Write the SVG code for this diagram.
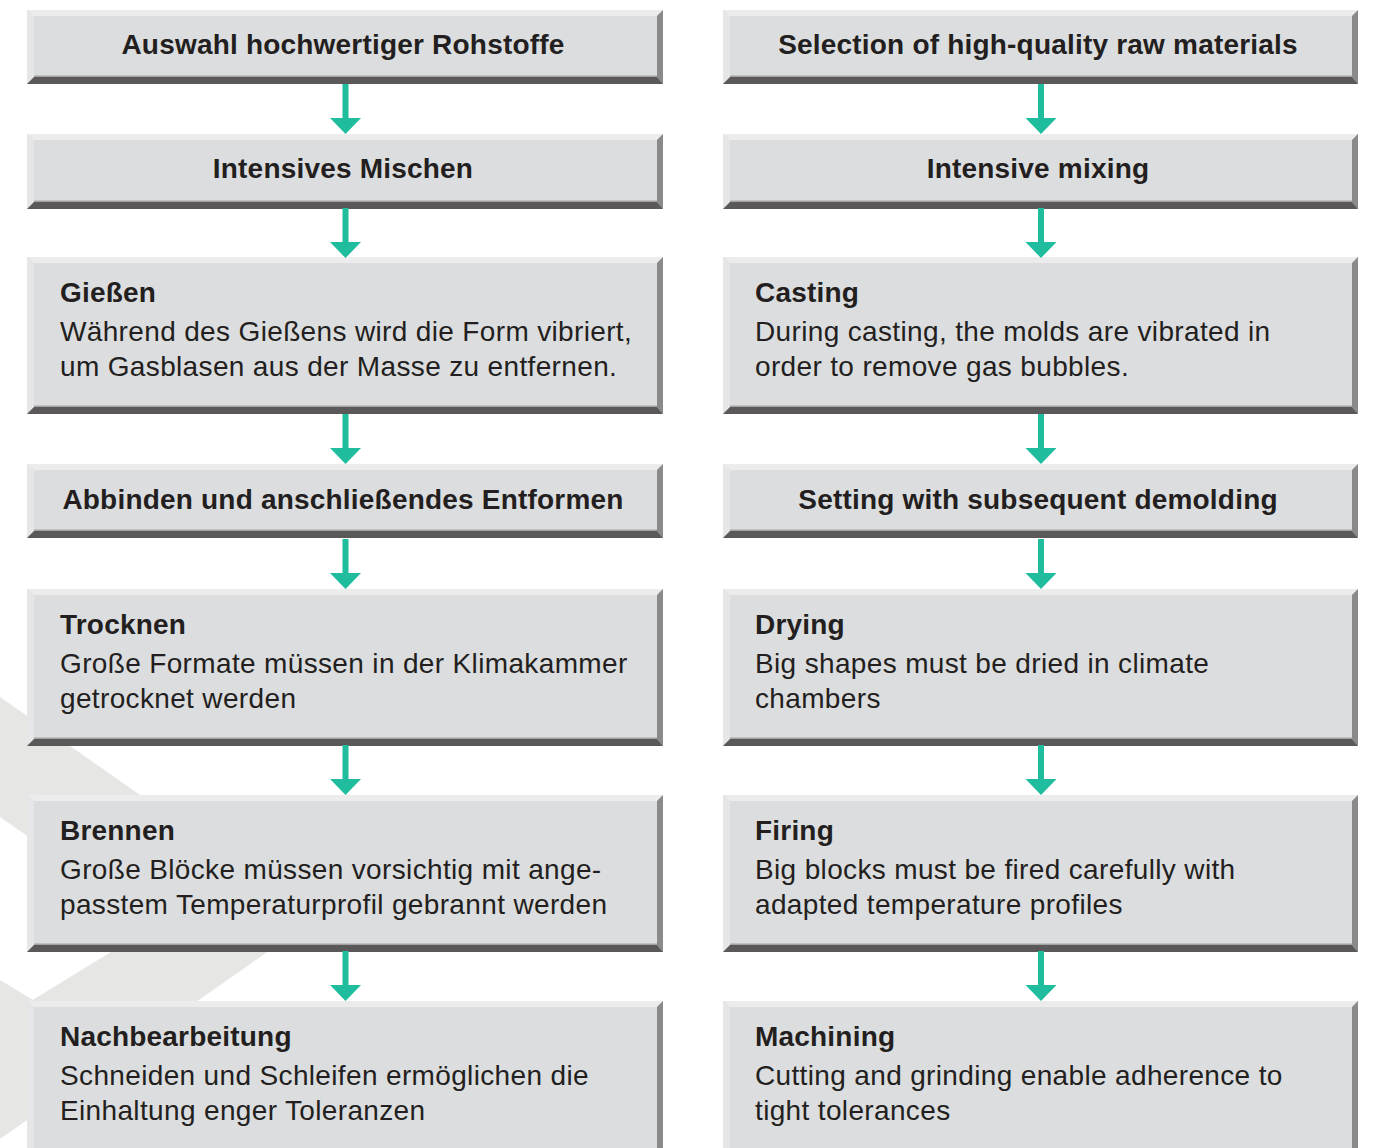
<svg xmlns="http://www.w3.org/2000/svg" width="1373" height="1148" viewBox="0 0 1373 1148">
<style>
.face{fill:#dcdddf}
.bt{fill:#ececec}
.bl{fill:#e5e6e7}
.br{fill:#8a8a8b}
.bb{fill:#5a5859}
.bbl{fill:#a3a3a4}
.t{font-family:"Liberation Sans",Arial,sans-serif;font-size:28px;fill:#231f20;letter-spacing:0.35px}
.b{font-weight:bold;letter-spacing:0.2px}
.c{text-anchor:middle}
.arr{fill:#1fbd9d}
.bg{fill:#e6e6e4}
</style>
<defs>
<g id="arrowShape">
<rect x="-3" y="0" width="6" height="36"/>
<polygon points="-15.5,34 15.5,34 0,50"/>
</g>
</defs>
<rect x="0" y="0" width="1373" height="1148" fill="#ffffff"/>
<g id="background">
<polygon class="bg" points="0,697 316,918 0,1139 0,1020 155,925 0,817"/>
<polygon class="bg" points="0,980 33,1000 60,1016 60,1110 0,1110"/>
</g>

<g id="n1">
<rect class="face" x="27" y="10" width="636" height="74"/>
<polygon class="bt" points="27,10 663,10 657,16 34,16"/>
<polygon class="bl" points="27,10 34,16 34,77 27,84"/>
<polygon class="br" points="663,10 663,84 657,77 657,16"/>
<polygon class="bbl" points="34,75.5 657,75.5 657,77 34,77"/>
<polygon class="bb" points="27,84 663,84 657,77 34,77"/>
<text class="t b c" x="343" y="54">Auswahl hochwertiger Rohstoffe</text>
</g>
<g id="n2">
<rect class="face" x="27" y="134" width="636" height="75"/>
<polygon class="bt" points="27,134 663,134 657,140 34,140"/>
<polygon class="bl" points="27,134 34,140 34,202 27,209"/>
<polygon class="br" points="663,134 663,209 657,202 657,140"/>
<polygon class="bbl" points="34,200.5 657,200.5 657,202 34,202"/>
<polygon class="bb" points="27,209 663,209 657,202 34,202"/>
<text class="t b c" x="343" y="178">Intensives Mischen</text>
</g>
<g id="n3">
<rect class="face" x="27" y="257" width="636" height="157"/>
<polygon class="bt" points="27,257 663,257 657,263 34,263"/>
<polygon class="bl" points="27,257 34,263 34,407 27,414"/>
<polygon class="br" points="663,257 663,414 657,407 657,263"/>
<polygon class="bbl" points="34,405.5 657,405.5 657,407 34,407"/>
<polygon class="bb" points="27,414 663,414 657,407 34,407"/>
<text class="t b" x="60" y="302">Gießen</text>
<text class="t" x="60" y="341">Während des Gießens wird die Form vibriert,</text>
<text class="t" x="60" y="376">um Gasblasen aus der Masse zu entfernen.</text>
</g>
<g id="n4">
<rect class="face" x="27" y="464" width="636" height="74"/>
<polygon class="bt" points="27,464 663,464 657,470 34,470"/>
<polygon class="bl" points="27,464 34,470 34,531 27,538"/>
<polygon class="br" points="663,464 663,538 657,531 657,470"/>
<polygon class="bbl" points="34,529.5 657,529.5 657,531 34,531"/>
<polygon class="bb" points="27,538 663,538 657,531 34,531"/>
<text class="t b c" x="343" y="509">Abbinden und anschließendes Entformen</text>
</g>
<g id="n5">
<rect class="face" x="27" y="589" width="636" height="157"/>
<polygon class="bt" points="27,589 663,589 657,595 34,595"/>
<polygon class="bl" points="27,589 34,595 34,739 27,746"/>
<polygon class="br" points="663,589 663,746 657,739 657,595"/>
<polygon class="bbl" points="34,737.5 657,737.5 657,739 34,739"/>
<polygon class="bb" points="27,746 663,746 657,739 34,739"/>
<text class="t b" x="60" y="634">Trocknen</text>
<text class="t" x="60" y="673">Große Formate müssen in der Klimakammer</text>
<text class="t" x="60" y="708">getrocknet werden</text>
</g>
<g id="n6">
<rect class="face" x="27" y="795" width="636" height="157"/>
<polygon class="bt" points="27,795 663,795 657,801 34,801"/>
<polygon class="bl" points="27,795 34,801 34,945 27,952"/>
<polygon class="br" points="663,795 663,952 657,945 657,801"/>
<polygon class="bbl" points="34,943.5 657,943.5 657,945 34,945"/>
<polygon class="bb" points="27,952 663,952 657,945 34,945"/>
<text class="t b" x="60" y="840">Brennen</text>
<text class="t" x="60" y="879">Große Blöcke müssen vorsichtig mit ange-</text>
<text class="t" x="60" y="914">passtem Temperaturprofil gebrannt werden</text>
</g>
<g id="n7">
<rect class="face" x="27" y="1001" width="636" height="160"/>
<polygon class="bt" points="27,1001 663,1001 657,1007 34,1007"/>
<polygon class="bl" points="27,1001 34,1007 34,1161 27,1161"/>
<polygon class="br" points="663,1001 663,1161 657,1161 657,1007"/>
<text class="t b" x="60" y="1046">Nachbearbeitung</text>
<text class="t" x="60" y="1085">Schneiden und Schleifen ermöglichen die</text>
<text class="t" x="60" y="1120">Einhaltung enger Toleranzen</text>
</g>

<g id="e1">
<rect class="face" x="723" y="10" width="635" height="74"/>
<polygon class="bt" points="723,10 1358,10 1352,16 730,16"/>
<polygon class="bl" points="723,10 730,16 730,77 723,84"/>
<polygon class="br" points="1358,10 1358,84 1352,77 1352,16"/>
<polygon class="bbl" points="730,75.5 1352,75.5 1352,77 730,77"/>
<polygon class="bb" points="723,84 1358,84 1352,77 730,77"/>
<text class="t b c" x="1038" y="54">Selection of high-quality raw materials</text>
</g>
<g id="e2">
<rect class="face" x="723" y="134" width="635" height="75"/>
<polygon class="bt" points="723,134 1358,134 1352,140 730,140"/>
<polygon class="bl" points="723,134 730,140 730,202 723,209"/>
<polygon class="br" points="1358,134 1358,209 1352,202 1352,140"/>
<polygon class="bbl" points="730,200.5 1352,200.5 1352,202 730,202"/>
<polygon class="bb" points="723,209 1358,209 1352,202 730,202"/>
<text class="t b c" x="1038" y="178">Intensive mixing</text>
</g>
<g id="e3">
<rect class="face" x="723" y="257" width="635" height="157"/>
<polygon class="bt" points="723,257 1358,257 1352,263 730,263"/>
<polygon class="bl" points="723,257 730,263 730,407 723,414"/>
<polygon class="br" points="1358,257 1358,414 1352,407 1352,263"/>
<polygon class="bbl" points="730,405.5 1352,405.5 1352,407 730,407"/>
<polygon class="bb" points="723,414 1358,414 1352,407 730,407"/>
<text class="t b" x="755" y="302">Casting</text>
<text class="t" x="755" y="341">During casting, the molds are vibrated in</text>
<text class="t" x="755" y="376">order to remove gas bubbles.</text>
</g>
<g id="e4">
<rect class="face" x="723" y="464" width="635" height="74"/>
<polygon class="bt" points="723,464 1358,464 1352,470 730,470"/>
<polygon class="bl" points="723,464 730,470 730,531 723,538"/>
<polygon class="br" points="1358,464 1358,538 1352,531 1352,470"/>
<polygon class="bbl" points="730,529.5 1352,529.5 1352,531 730,531"/>
<polygon class="bb" points="723,538 1358,538 1352,531 730,531"/>
<text class="t b c" x="1038" y="509">Setting with subsequent demolding</text>
</g>
<g id="e5">
<rect class="face" x="723" y="589" width="635" height="157"/>
<polygon class="bt" points="723,589 1358,589 1352,595 730,595"/>
<polygon class="bl" points="723,589 730,595 730,739 723,746"/>
<polygon class="br" points="1358,589 1358,746 1352,739 1352,595"/>
<polygon class="bbl" points="730,737.5 1352,737.5 1352,739 730,739"/>
<polygon class="bb" points="723,746 1358,746 1352,739 730,739"/>
<text class="t b" x="755" y="634">Drying</text>
<text class="t" x="755" y="673">Big shapes must be dried in climate</text>
<text class="t" x="755" y="708">chambers</text>
</g>
<g id="e6">
<rect class="face" x="723" y="795" width="635" height="157"/>
<polygon class="bt" points="723,795 1358,795 1352,801 730,801"/>
<polygon class="bl" points="723,795 730,801 730,945 723,952"/>
<polygon class="br" points="1358,795 1358,952 1352,945 1352,801"/>
<polygon class="bbl" points="730,943.5 1352,943.5 1352,945 730,945"/>
<polygon class="bb" points="723,952 1358,952 1352,945 730,945"/>
<text class="t b" x="755" y="840">Firing</text>
<text class="t" x="755" y="879">Big blocks must be fired carefully with</text>
<text class="t" x="755" y="914">adapted temperature profiles</text>
</g>
<g id="e7">
<rect class="face" x="723" y="1001" width="635" height="160"/>
<polygon class="bt" points="723,1001 1358,1001 1352,1007 730,1007"/>
<polygon class="bl" points="723,1001 730,1007 730,1161 723,1161"/>
<polygon class="br" points="1358,1001 1358,1161 1352,1161 1352,1007"/>
<text class="t b" x="755" y="1046">Machining</text>
<text class="t" x="755" y="1085">Cutting and grinding enable adherence to</text>
<text class="t" x="755" y="1120">tight tolerances</text>
</g>

<g id="connectors" class="arr">
<use href="#arrowShape" x="345.5" y="84"/>
<use href="#arrowShape" x="345.5" y="208"/>
<use href="#arrowShape" x="345.5" y="414"/>
<use href="#arrowShape" x="345.5" y="539"/>
<use href="#arrowShape" x="345.5" y="745"/>
<use href="#arrowShape" x="345.5" y="951"/>
<use href="#arrowShape" x="1041" y="84"/>
<use href="#arrowShape" x="1041" y="208"/>
<use href="#arrowShape" x="1041" y="414"/>
<use href="#arrowShape" x="1041" y="539"/>
<use href="#arrowShape" x="1041" y="745"/>
<use href="#arrowShape" x="1041" y="951"/>
</g>
</svg>
